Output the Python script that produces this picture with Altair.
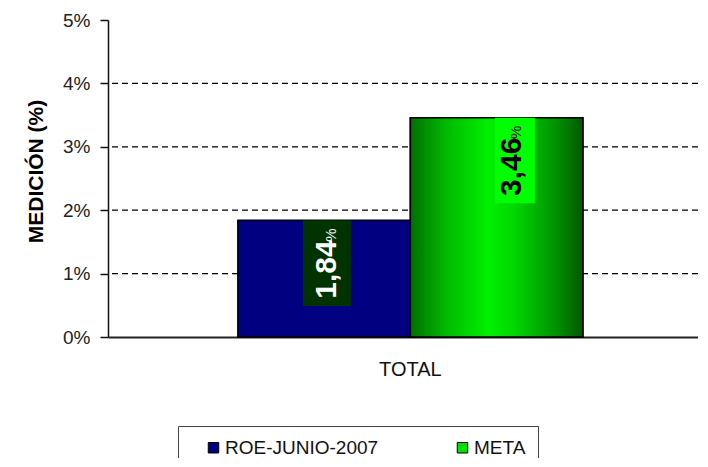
import altair as alt
import pandas as pd

categories = ["TOTAL"]
series = ["ROE-JUNIO-2007", "META"]
values = [0.0184, 0.0346]
value_labels = ["1,84", "3,46"]
grid_vals = [0.01, 0.02, 0.03, 0.04]

df = pd.DataFrame({
    "cat": [categories[0]] * len(series),
    "serie": series,
    "value": values,
    "label": value_labels,
})
grid_df = pd.DataFrame({"g": grid_vals})

FONT = "Liberation Sans"
W, H = 590, 317

x_scale = alt.Scale(domain=categories, paddingInner=0, paddingOuter=0.355, align=0.53)
x_axis = alt.Axis(labelFontSize=20, labelFont=FONT, labelColor="#111", ticks=False,
                  domainColor="#222", domainWidth=2, labelPadding=22, labelAngle=0)
x_enc = alt.X("cat:N", title=None, scale=x_scale, axis=x_axis)
xo_enc = alt.XOffset("serie:N", scale=alt.Scale(domain=series, paddingInner=0, paddingOuter=0))
y_enc = alt.Y("value:Q", title="MEDICIÓN (%)",
              scale=alt.Scale(domain=[0, 0.05], nice=False),
              axis=alt.Axis(format=".0%", values=[0, 0.01, 0.02, 0.03, 0.04, 0.05], grid=False,
                            labelFontSize=19, labelFont=FONT, labelColor="#222",
                            tickColor="#111", tickSize=8, tickWidth=1.5, domainColor="#111",
                            domainWidth=1.5, labelPadding=10,
                            titleFont=FONT, titleFontSize=21, titleFontWeight="bold",
                            titleColor="#000", titlePadding=16, titleY=151))

base = alt.Chart(df)

grid = alt.Chart(grid_df).mark_rule(color="#000", strokeDash=[6, 4], strokeWidth=1.2).encode(
    y=alt.Y("g:Q", scale=alt.Scale(domain=[0, 0.05], nice=False))
)

pad = "\u00a0" * 6
bars = base.mark_bar(stroke="#000", strokeWidth=1.5).encode(
    x=x_enc, xOffset=xo_enc, y=y_enc,
    color=alt.Color("serie:N",
                    scale=alt.Scale(domain=series, range=["#000080", "#00e000"]),
                    legend=alt.Legend(title=None, orient="none", legendX=70, legendY=406,
                                      direction="horizontal", columns=2, columnPadding=60,
                                      fillColor="#fff", strokeColor="#444", padding=12,
                                      symbolType="square", symbolSize=110, symbolStrokeColor="#000",
                                      symbolStrokeWidth=1, symbolOffset=14,
                                      labelFont=FONT, labelFontSize=19, labelColor="#111",
                                      labelOffset=2,
                                      labelExpr="datum.label == 'META' ? datum.label + '" + pad + "' : datum.label")),
)

green_grad = {
    "gradient": "linear", "x1": 0, "y1": 0, "x2": 1, "y2": 0,
    "stops": [
        {"offset": 0, "color": "#007000"},
        {"offset": 0.2, "color": "#00b800"},
        {"offset": 0.45, "color": "#00f000"},
        {"offset": 0.6, "color": "#00d800"},
        {"offset": 0.85, "color": "#009000"},
        {"offset": 1, "color": "#005800"},
    ],
}
green_bar = base.transform_filter(alt.datum.serie == "META").mark_bar(
    fill=green_grad, stroke="#000", strokeWidth=1.5
).encode(x=x_enc, xOffset=xo_enc, y=y_enc)

layers = [grid, bars, green_bar]

# label settings per series: (bg color, bg width, band position, text color, baseline shift)
label_style = {
    "ROE-JUNIO-2007": ("#003300", 48, 0.258, "#ffffff", 11.5),
    "META": ("#00ff00", 40, 0.803, "#000000", 24.5),
}
for s in series:
    bg, bw, bp, tc, bsh = label_style[s]
    sub = base.transform_filter(alt.datum.serie == s)
    box = sub.transform_calculate(bottom="datum.value - 0.0135").mark_rule(
        color=bg, strokeWidth=bw, strokeCap="butt"
    ).encode(x=alt.X("cat:N", title=None, scale=x_scale, axis=x_axis, bandPosition=bp),
             y=y_enc, y2="bottom:Q")
    num = sub.mark_text(angle=270, align="right", baseline="alphabetic", font=FONT,
                        fontSize=30, fontWeight="bold", color=tc, dx=-20, dy=bsh).encode(
        x=x_enc, xOffset=xo_enc, y=y_enc, text="label:N")
    pct = sub.mark_text(angle=270, align="right", baseline="alphabetic", font=FONT,
                        fontSize=15, color=tc, dx=-8, dy=bsh).encode(
        x=x_enc, xOffset=xo_enc, y=y_enc, text=alt.value("%"))
    layers += [box, num, pct]

chart = alt.layer(*layers).properties(
    width=W, height=H,
    autosize=alt.AutoSizeParams(type="none"),
    padding={"left": 100, "top": 12, "right": 0, "bottom": 121},
    background="#ffffff",
).configure_view(stroke=None)

chart.save("out.html", embed_options={"renderer": "svg", "actions": False})
